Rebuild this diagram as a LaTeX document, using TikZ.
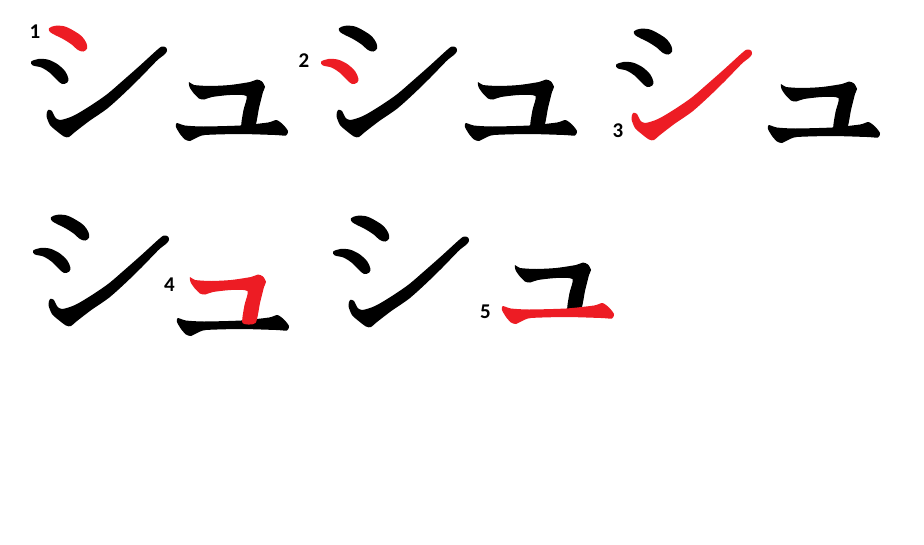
\documentclass[tikz,border=0pt]{standalone}
\usepackage{fontspec}
\setmainfont{Carlito}
\definecolor{strokered}{HTML}{ED1C24}
\definecolor{inkblack}{HTML}{000000}
\tikzset{
  num/.style={font=\fontsize{21}{21}\selectfont\bfseries, text=inkblack, inner sep=0pt},
  s1/.pic={\fill[#1] plot[smooth cycle, tension=0.55] coordinates {(49,28.3) (55,25.8) (65,26.5) (75,31.5) (82,36.5) (86.5,43.3) (87,48.5) (83.5,51.5) (78,50) (71,44) (63,39) (55,35) (50,32)};},
  s2/.pic={\fill[#1] plot[smooth cycle, tension=0.55] coordinates {(31,61.7) (38.3,59) (48.3,59.7) (58.3,64.7) (65.3,71.5) (68.3,78.3) (67.3,82.5) (62,84) (56,79) (49.5,72.5) (41.5,67.5) (33,65.5)};},
  s3/.pic={\fill[#1] plot[smooth cycle, tension=0.5] coordinates {(48,110) (52,111) (55,117) (60,120) (73,116) (90,106) (106.7,94.5) (123,80.5) (140,65.5) (157,50) (162,46.5) (166,47.5) (167,51) (164,55) (157,60.5) (140,78) (123,94.5) (106.7,109) (90,120.5) (75,132) (69,137) (64,136.5) (56,130.5) (50,125) (46.5,116)};},
  u4/.pic={\fill[#1] plot[smooth cycle, tension=0.4] coordinates {(189,82) (194,85) (210,86) (230,85) (250,82) (257,79.5) (262,81.5) (265,87) (263,92) (259,108) (254.5,128) (241.5,128) (243.5,110) (246.5,96) (230,95) (212,97) (204,99.5) (199,98.5) (193.5,93) (189.5,87)};},
  u5/.pic={\fill[#1] plot[smooth cycle, tension=0.4] coordinates {(176.7,123) (185,125.5) (203,126.5) (240,125.5) (268,122.5) (276.5,120) (283,124.5) (288,131) (286,135.5) (275,135) (240,134) (205,135) (196,138) (190,141) (185,139.5) (180,134) (176,127)};},
}
\begin{document}
\begin{tikzpicture}[x=1pt,y=-1pt]
\fill[white] (0,0) rectangle (924,544);
\useasboundingbox (0,0) rectangle (924,544);
% copy 1: stroke 1 highlighted
\pic at (0,0) {s2=inkblack};
\pic at (0,0) {s3=inkblack};
\pic at (0,0) {u4=inkblack};
\pic at (0,0) {u5=inkblack};
\pic at (0,0) {s1=strokered};
\node[num] (n1) at (35,32) {1};
% copy 2: stroke 2 highlighted
\pic at (290,0) {s1=inkblack};
\pic at (290,0) {s3=inkblack};
\pic at (289,0) {u4=inkblack};
\pic at (289,0) {u5=inkblack};
\pic at (290,0) {s2=strokered};
\node[num] (n2) at (304,61) {2};
% copy 3: stroke 3 highlighted
\pic at (585,3) {s1=inkblack};
\pic at (585,3) {s2=inkblack};
\pic at (592,2) {u4=inkblack};
\pic at (592,2) {u5=inkblack};
\pic at (585,3) {s3=strokered};
\node[num] (n3) at (618,131) {3};
% copy 4: stroke 4 highlighted
\pic at (2,189) {s1=inkblack};
\pic at (2,189) {s2=inkblack};
\pic at (2,189) {s3=inkblack};
\pic at (1,195) {u5=inkblack};
\pic at (1,195) {u4=strokered};
\node[num] (n4) at (169.5,285) {4};
% copy 5: stroke 5 highlighted
\pic at (302,190) {s1=inkblack};
\pic at (302,190) {s2=inkblack};
\pic at (302,190) {s3=inkblack};
\pic at (326,183) {u4=inkblack};
\pic at (326,183) {u5=strokered};
\node[num] (n5) at (485.5,312) {5};
\end{tikzpicture}
\end{document}
